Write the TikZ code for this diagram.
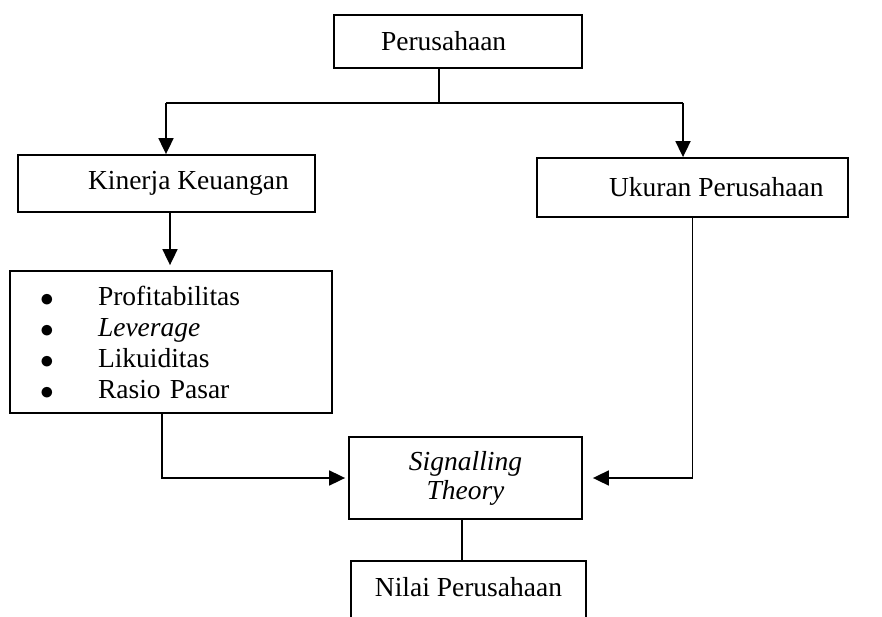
\documentclass[tikz,border=0pt]{standalone}
\usepackage{fontspec}
\setmainfont{Liberation Serif}
\usetikzlibrary{arrows.meta}
\newcommand\boxtxt[3]{\makebox[#1][l]{\hspace{#2}#3}}
\newcommand\bigbul{\makebox[58pt][l]{\smash{\raisebox{-1pt}{\scalebox{1.1}{$\bullet$}}}}}
\begin{document}
\begin{tikzpicture}[x=1pt,y=-1pt,
  box/.style={draw, line width=1.8pt, inner sep=0pt, font=\fontsize{27.5}{29}\selectfont},
  conn/.style={line width=1.8pt},
  arr/.style={conn, -{Triangle[length=16pt,width=15pt]}}]
\useasboundingbox (0,0) rectangle (882,617);
\clip (0,0) rectangle (882,617);

\node[box, minimum width=248pt, minimum height=53pt] (P) at (458,41.5)
  {\boxtxt{248pt}{47pt}{Perusahaan}};
\node[box, minimum width=297pt, minimum height=57pt] (K) at (166.5,183.5)
  {\boxtxt{297pt}{70pt}{Kinerja Keuangan}};
\node[box, minimum width=311pt, minimum height=59pt] (U) at (692.5,187.5)
  {\boxtxt{311pt}{72pt}{Ukuran Perusahaan}};
\node[box, minimum width=322pt, minimum height=142pt, font=\fontsize{27.5}{31}\selectfont,
      text width=262pt, inner xsep=30pt, align=left] (L) at (171,342)
  {\bigbul Profitabilitas\\
   \bigbul\textit{Leverage}\\
   \bigbul Likuiditas\\
   \bigbul Rasio Pasar};
\node[box, minimum width=233pt, minimum height=82pt, align=center] (S) at (465.5,478)
  {\textit{Signalling}\\\textit{Theory}};
\node[box, anchor=north, minimum width=235pt, text height=36pt, text depth=40pt] (N) at (468.5,560)
  {Nilai Perusahaan};

\coordinate (jl) at (166,103);
\coordinate (jr) at (683,103);
\coordinate (jm) at (439,103);
\draw[conn] (P.south -| jm) -- (jm);
\draw[conn] (jl) -- (jr);
\draw[arr] (jl) -- (K.north -| jl);
\draw[arr] (jr) -- (U.north -| jr);
\draw[arr, shorten >=5pt] (K.south -| 170,0) -- (L.north -| 170,0);
\draw[arr, shorten >=3pt] (L.south -| 162,0) |- (S.west);
\draw[arr, shorten >=10pt] (U.south) |- (S.east);
\draw[conn] (S.south -| 462,0) -- (N.north -| 462,0);
\end{tikzpicture}
\end{document}
